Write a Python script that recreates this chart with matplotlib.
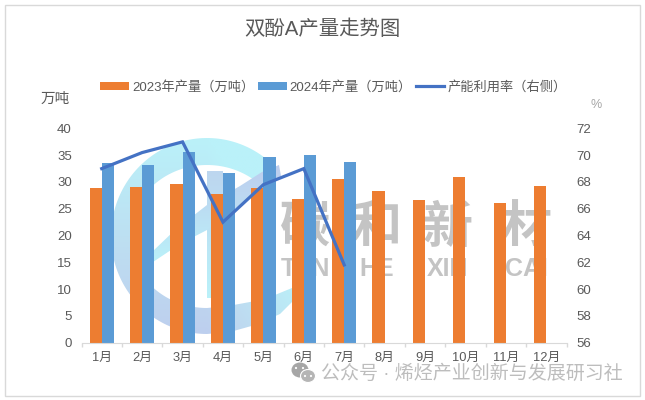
"""
Bisphenol A output chart with the logo watermark behind the bars.
"""

import numpy as np
import matplotlib
matplotlib.use('Agg')
import matplotlib.pyplot as plt
from matplotlib.colors import LinearSegmentedColormap
from matplotlib.patches import Ellipse, Polygon, Rectangle

plt.rcParams['font.family'] = ['Liberation Sans', 'Noto Sans CJK SC', 'DejaVu Sans']

months = ['1月', '2月', '3月', '4月', '5月', '6月', '7月', '8月', '9月', '10月', '11月', '12月']
output_2023 = [28.8, 29.0, 29.7, 27.7, 28.8, 26.9, 30.5, 28.4, 26.7, 31.0, 26.0, 29.2]
output_2024 = [33.5, 33.1, 35.7, 31.6, 34.6, 35.0, 33.8]
utilisation = [69.0, 70.2, 71.0, 65.0, 67.8, 69.0, 61.8]

left_ticks = [0, 5, 10, 15, 20, 25, 30, 35, 40]
right_ticks = [56, 58, 60, 62, 64, 66, 68, 70, 72]

GREY = '#595959'
WM = '#C4C4C4'

W, H = 645, 400
fig = plt.figure(figsize=(W / 100, H / 100), dpi=100)
fig.add_artist(Rectangle((5 / W, 1 - 396 / H), 635 / W, 391 / H, transform=fig.transFigure,
                         fill=False, ec='#D9D9D9', lw=1))

# Background layer, in pixels from the top left
bg = fig.add_axes([0, 0, 1, 1], zorder=-1)
bg.axis('off')


def gradient_shape(pts, colours, fade_right=False):
    pts = np.asarray(pts, dtype=float)
    y0, y1 = pts[:, 1].min(), pts[:, 1].max()
    gx, gy = np.meshgrid(np.linspace(100, 320, 120), np.linspace(y0, y1, 120))
    t = (gy - y0) / (y1 - y0)
    if fade_right:
        t = t - 0.7 * np.clip((gx - 207) / 90, 0, 1)
    cmap = LinearSegmentedColormap.from_list('wm', colours)
    im = bg.imshow(np.clip(t, 0, 1), cmap=cmap, vmin=0, vmax=1, aspect='auto',
                   extent=(100, 320, y1, y0), zorder=1)
    patch = Polygon(pts, closed=True, fc='none', ec='none', transform=bg.transData)
    bg.add_patch(patch)
    im.set_clip_path(patch)


# Open ring of the logo, the lower right part is flatter than the rest
ang = np.radians(np.linspace(43, 270, 120))
outer = np.c_[207 + 96 * np.cos(ang), 236 - 98 * np.sin(ang)]
inner = np.c_[207 + 77 * np.cos(ang[::-1]), 236.5 - 71.5 * np.sin(ang[::-1])]
ring_end = [(230, 332), (255, 325), (280, 314), (300, 294), (292, 288), (270, 297), (250, 302), (228, 306)]
gradient_shape(np.r_[outer, ring_end, inner], ['#BAF1F9', '#BDE0F2', '#BDCFEE'], fade_right=True)

# Vertical stem and diagonal tail
gradient_shape([(207, 171), (223, 171), (223, 298), (207, 298)], ['#BDD6EF', '#BAF1F9'])
tail_top = [(153, 262), (152, 252), (175, 230), (207, 205), (240, 186), (262, 172), (279, 165)]
tail_low = [(281, 176), (263, 187), (236, 208), (207, 230), (180, 244)]
gradient_shape(tail_top + tail_low, ['#BDCDEE', '#BAF1F9'])

# Logo text
for x, ch, en in [(305, '碳', 'TAN'), (377, '和', 'HE'), (448, '新', 'XIN'), (526, '材', 'CAI')]:
    bg.text(x, 229, ch, fontsize=36, fontweight='bold', color=WM, ha='center', va='center', zorder=2)
    bg.text(x, 269, en, fontsize=18, fontweight='bold', color=WM, ha='center', va='center', zorder=2)

bg.set_xlim(0, W)
bg.set_ylim(H, 0)

# Bars
ax = fig.add_axes([81.5 / W, 1 - 342.5 / H, 485 / W, 214 / H], zorder=1)
ax.patch.set_visible(False)
x = np.arange(len(months))
bar_w = 0.3
b1 = ax.bar(x - bar_w / 2, output_2023, bar_w, color='#ED7D31', label='2023年产量（万吨）')
b2 = ax.bar(x[:len(output_2024)] + bar_w / 2, output_2024, bar_w, color='#5B9BD5',
            label='2024年产量（万吨）')
ax.set_xlim(-0.5, 11.5)
ax.set_ylim(0, 40)
ax.set_yticks(left_ticks)
ax.set_xticks(x)
ax.set_xticklabels(months)
ax.set_xticks(np.arange(-0.5, 12), minor=True)
ax.tick_params(axis='x', which='major', length=0, pad=7, labelsize=9.3, labelcolor=GREY)
ax.tick_params(axis='x', which='minor', length=3, color='#D9D9D9', width=1)
ax.tick_params(axis='y', length=0, pad=7, labelsize=9.5, labelcolor=GREY)
for s in ['top', 'left', 'right']:
    ax.spines[s].set_visible(False)
ax.spines['bottom'].set_color('#D9D9D9')

# Utilisation line on the right axis
ax2 = ax.twinx()
ax2.patch.set_visible(False)
line, = ax2.plot(x[:len(utilisation)], utilisation, color='#4472C4', lw=2.3,
                 solid_joinstyle='miter', label='产能利用率（右侧）')
ax2.set_ylim(56, 72)
ax2.set_yticks(right_ticks)
ax2.tick_params(axis='y', length=0, pad=7, labelsize=9.5, labelcolor=GREY)
for s in ax2.spines.values():
    s.set_visible(False)

# Title, legend, units
fig.text(322.5 / W, 1 - 29.5 / H, '双酚A产量走势图', fontsize=14.7, color=GREY, ha='center', va='center')
leg = fig.legend(handles=[b1, b2, line], loc='center', bbox_to_anchor=(333.6 / W, 1 - 87 / H),
                 ncol=3, frameon=False, fontsize=9.5, borderpad=0, handlelength=2.15,
                 handleheight=0.55, handletextpad=0.25, columnspacing=0.3, labelcolor=GREY)
fig.text(55 / W, 1 - 99 / H, '万吨', fontsize=10.5, color=GREY, ha='center', va='center')
fig.text(596 / W, 1 - 105 / H, '%', fontsize=9, color='#A6A6A6', ha='center', va='center')

# Account mark at the bottom right
fig.text(321 / W, 1 - 374 / H, '公众号 · 烯烃产业创新与发展研习社', fontsize=13.7, color='#BDBDBD',
         ha='left', va='center')
icon = fig.add_axes([0, 0, 1, 1], zorder=2)
icon.axis('off')
icon.set_xlim(0, W)
icon.set_ylim(H, 0)
icon.add_patch(Ellipse((300, 370), 17, 15, fc='#A6A6A6', ec='none'))
icon.add_patch(Ellipse((308, 376), 15, 13, fc='#B5B5B5', ec='white', lw=0.8))
for ex, ey in [(296, 368), (303, 368), (305, 376), (311, 376)]:
    icon.add_patch(Ellipse((ex, ey), 2.2, 2.2, fc='white', ec='none'))

fig.savefig('out.png', dpi=100)
